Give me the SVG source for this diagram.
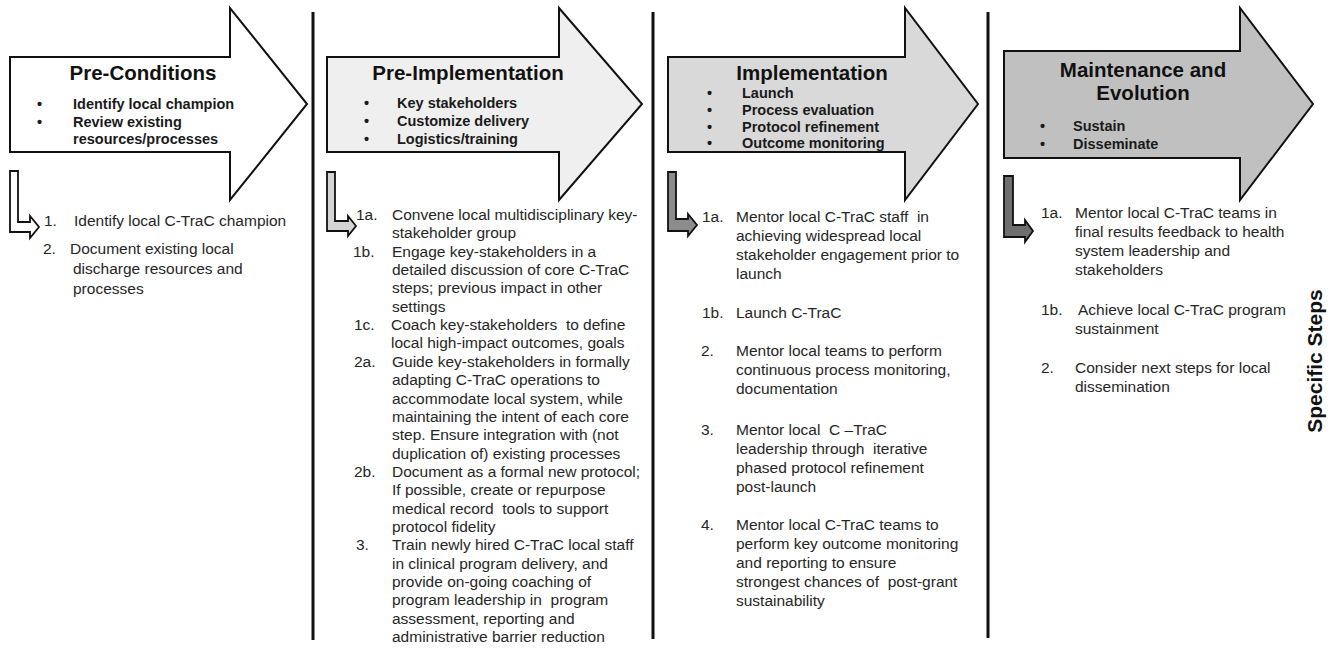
<svg xmlns="http://www.w3.org/2000/svg" width="1336" height="650" viewBox="0 0 1336 650">
<style>
.arrow{stroke:#111;stroke-width:2;stroke-linejoin:miter}
.bent{stroke:#111;stroke-width:1.8;stroke-linejoin:miter}
.title{font-family:"Liberation Sans",Arial,sans-serif;font-weight:bold;font-size:20.5px;fill:#111;text-anchor:middle}
.bul{font-family:"Liberation Sans",Arial,sans-serif;font-weight:bold;font-size:14.5px;fill:#1a1a1a}
.body{font-family:"Liberation Sans",Arial,sans-serif;font-size:15.5px;fill:#262626;white-space:pre}
.div{stroke:#111;stroke-width:3}
.side{font-family:"Liberation Sans",Arial,sans-serif;font-weight:bold;font-size:21px;fill:#111;text-anchor:middle}
</style>
<rect width="1336" height="650" fill="#fff"/>
<g id="dividers">
<line class="div" x1="313" y1="12" x2="313" y2="640"/>
<line class="div" x1="653" y1="12" x2="653" y2="639"/>
<line class="div" x1="988" y1="12" x2="988" y2="638"/>
</g>
<g id="pre-conditions">
<path class="arrow" fill="#ffffff" d="M10,57 H230 V8 L307,104 L230,200 V152 H10 Z"/>
<text class="title" x="143" y="80">Pre-Conditions</text>
<text class="bul" x="37" y="109">•</text><text class="bul" x="73" y="109">Identify local champion</text>
<text class="bul" x="37" y="127">•</text><text class="bul" x="73" y="127">Review existing</text>
<text class="bul" x="73" y="144">resources/processes</text>
<path class="bent" fill="#ffffff" d="M10,171 H18 V222 H30 V216 L39,227 L30,238 V232 H10 Z"/>
<text class="body" x="44" y="226">1.</text><text class="body" x="74" y="226">Identify local C-TraC champion</text>
<text class="body" x="43" y="254">2.</text><text class="body" x="70" y="254">Document existing local</text>
<text class="body" x="73" y="274">discharge resources and</text>
<text class="body" x="73" y="294">processes</text>
</g>
<g id="pre-implementation">
<path class="arrow" fill="#efefef" d="M327,57 H559 V8 L642,104 L559,200 V152 H327 Z"/>
<text class="title" x="468" y="80">Pre-Implementation</text>
<text class="bul" x="364" y="108">•</text><text class="bul" x="397" y="108">Key stakeholders</text>
<text class="bul" x="364" y="126">•</text><text class="bul" x="397" y="126">Customize delivery</text>
<text class="bul" x="364" y="144">•</text><text class="bul" x="397" y="144">Logistics/training</text>
<path class="bent" fill="#d4d4d4" d="M327,172 H335 V221 H348 V216 L356,226 L348,236 V231 H327 Z"/>
<text class="body" x="356" y="220">1a.</text><text class="body" x="392" y="220">Convene local multidisciplinary key-</text>
<text class="body" x="392" y="238.4">stakeholder group</text>
<text class="body" x="353" y="256.7">1b.</text><text class="body" x="392" y="256.7">Engage key-stakeholders in a</text>
<text class="body" x="392" y="275">detailed discussion of core C-TraC</text>
<text class="body" x="392" y="293.4">steps; previous impact in other</text>
<text class="body" x="392" y="311.7">settings</text>
<text class="body" x="354" y="330">1c.</text><text class="body" x="391" y="330">Coach key-stakeholders  to define</text>
<text class="body" x="391" y="348.4">local high-impact outcomes, goals</text>
<text class="body" x="354" y="366.8">2a.</text><text class="body" x="392" y="366.8">Guide key-stakeholders in formally</text>
<text class="body" x="392" y="385.1">adapting C-TraC operations to</text>
<text class="body" x="392" y="403.5">accommodate local system, while</text>
<text class="body" x="392" y="421.8">maintaining the intent of each core</text>
<text class="body" x="392" y="440.2">step. Ensure integration with (not</text>
<text class="body" x="392" y="458.5">duplication of) existing processes</text>
<text class="body" x="354" y="476.9">2b.</text><text class="body" x="392" y="476.9">Document as a formal new protocol;</text>
<text class="body" x="392" y="495.2">If possible, create or repurpose</text>
<text class="body" x="392" y="513.6">medical record  tools to support</text>
<text class="body" x="392" y="531.9">protocol fidelity</text>
<text class="body" x="356" y="550.3">3.</text><text class="body" x="392" y="550.3">Train newly hired C-TraC local staff</text>
<text class="body" x="392" y="568.6">in clinical program delivery, and</text>
<text class="body" x="392" y="587">provide on-going coaching of</text>
<text class="body" x="392" y="605.3">program leadership in  program</text>
<text class="body" x="392" y="623.7">assessment, reporting and</text>
<text class="body" x="392" y="642">administrative barrier reduction</text>
</g>
<g id="implementation">
<path class="arrow" fill="#d9d9d9" d="M668,57 H905 V8 L978,104 L905,200 V152 H668 Z"/>
<text class="title" x="812" y="80">Implementation</text>
<text class="bul" x="707" y="98">•</text><text class="bul" x="742" y="98">Launch</text>
<text class="bul" x="707" y="115">•</text><text class="bul" x="742" y="115">Process evaluation</text>
<text class="bul" x="707" y="132">•</text><text class="bul" x="742" y="132">Protocol refinement</text>
<text class="bul" x="707" y="148">•</text><text class="bul" x="742" y="148">Outcome monitoring</text>
<path class="bent" fill="#8c8c8c" d="M668,172 H676 V219 H688 V214 L697,225 L688,236 V231 H668 Z"/>
<text class="body" x="702" y="222">1a.</text><text class="body" x="736" y="222">Mentor local C-TraC staff  in</text>
<text class="body" x="736" y="241">achieving widespread local</text>
<text class="body" x="736" y="260">stakeholder engagement prior to</text>
<text class="body" x="736" y="279">launch</text>
<text class="body" x="702" y="318">1b.</text><text class="body" x="736" y="318">Launch C-TraC</text>
<text class="body" x="701" y="356">2.</text><text class="body" x="736" y="356">Mentor local teams to perform</text>
<text class="body" x="736" y="375">continuous process monitoring,</text>
<text class="body" x="736" y="394">documentation</text>
<text class="body" x="701" y="435">3.</text><text class="body" x="736" y="435">Mentor local  C –TraC</text>
<text class="body" x="736" y="454">leadership through  iterative</text>
<text class="body" x="736" y="473">phased protocol refinement</text>
<text class="body" x="736" y="492">post-launch</text>
<text class="body" x="701" y="530">4.</text><text class="body" x="736" y="530">Mentor local C-TraC teams to</text>
<text class="body" x="736" y="549">perform key outcome monitoring</text>
<text class="body" x="736" y="568">and reporting to ensure</text>
<text class="body" x="736" y="587">strongest chances of  post-grant</text>
<text class="body" x="736" y="606">sustainability</text>
</g>
<g id="maintenance">
<path class="arrow" fill="#c0c0c0" d="M1004,51 H1240 V8 L1313,104 L1240,200 V158 H1004 Z"/>
<text class="title" x="1143" y="77">Maintenance and</text>
<text class="title" x="1143" y="100">Evolution</text>
<text class="bul" x="1040" y="131">•</text><text class="bul" x="1073" y="131">Sustain</text>
<text class="bul" x="1040" y="149">•</text><text class="bul" x="1073" y="149">Disseminate</text>
<path class="bent" fill="#6f6f6f" d="M1004,176 H1013 V225 H1025 V220 L1033,231 L1025,242 V237 H1004 Z"/>
<text class="body" x="1041" y="218">1a.</text><text class="body" x="1075" y="218">Mentor local C-TraC teams in</text>
<text class="body" x="1075" y="237">final results feedback to health</text>
<text class="body" x="1075" y="256">system leadership and</text>
<text class="body" x="1075" y="275">stakeholders</text>
<text class="body" x="1041" y="315">1b.</text><text class="body" x="1078" y="315">Achieve local C-TraC program</text>
<text class="body" x="1075" y="334">sustainment</text>
<text class="body" x="1041" y="373">2.</text><text class="body" x="1075" y="373">Consider next steps for local</text>
<text class="body" x="1075" y="392">dissemination</text>
</g>
<g id="side-label">
<text class="side" transform="translate(1322,361) rotate(-90)" x="0" y="0">Specific Steps</text>
</g>
</svg>
